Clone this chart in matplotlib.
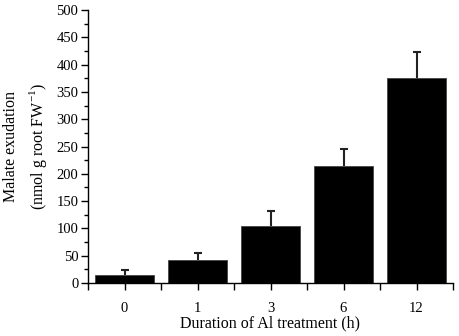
import numpy as np
import matplotlib
matplotlib.use("Agg")
import matplotlib.pyplot as plt
from matplotlib.ticker import MultipleLocator

# Malate exudation vs duration of Al treatment
durations = ["0", "1", "3", "6", "12"]
malate = [15, 43, 105, 215, 376]
malate_err = [8, 12, 26, 30, 47]

plt.rcParams['font.family'] = ['Liberation Serif', 'DejaVu Serif']
plt.rcParams['mathtext.fontset'] = 'custom'
plt.rcParams['mathtext.rm'] = 'Liberation Serif'

fig = plt.figure(figsize=(4.59, 3.36), dpi=100)
ax = fig.add_axes([88 / 459, 1 - 283 / 336, (453 - 88) / 459, (283 - 10) / 336])

x = np.arange(len(durations))
ax.bar(x, malate, width=0.8, color="black", edgecolor="#444444", linewidth=0.6, zorder=2)
# only the upper half of the error bar is shown
_, caps, _ = ax.errorbar(x, malate, yerr=[np.zeros(len(malate)), malate_err], fmt="none",
                         ecolor="#222222", elinewidth=1.5, capsize=3, capthick=1.5, zorder=3)
caps[0].set_visible(False)

ax.set_xlim(-0.5, 4.5)
ax.set_ylim(0, 500)
ax.set_xticks(x)
ax.set_xticklabels(durations)
ax.xaxis.set_minor_locator(MultipleLocator(1, offset=0.5))
ax.yaxis.set_major_locator(MultipleLocator(50))
ax.yaxis.set_minor_locator(MultipleLocator(25))

for s in ["top", "right"]:
    ax.spines[s].set_visible(False)
for s in ["left", "bottom"]:
    ax.spines[s].set_linewidth(1.0)

ax.tick_params(axis="both", which="major", direction="out", length=5, width=1, labelsize=10.5)
ax.tick_params(axis="both", which="minor", direction="out", length=3, width=1)
ax.tick_params(axis="x", which="minor", length=5)
ax.tick_params(axis="x", pad=9)
ax.tick_params(axis="y", pad=2)

ax.set_xlabel("Duration of Al treatment (h)", fontsize=11.5, labelpad=0)
ax.set_ylabel("Malate exudation\n(nmol g root FW$^{-1}$)", fontsize=11.5, labelpad=5,
              linespacing=1.5)

fig.savefig("out.png", dpi=100)
